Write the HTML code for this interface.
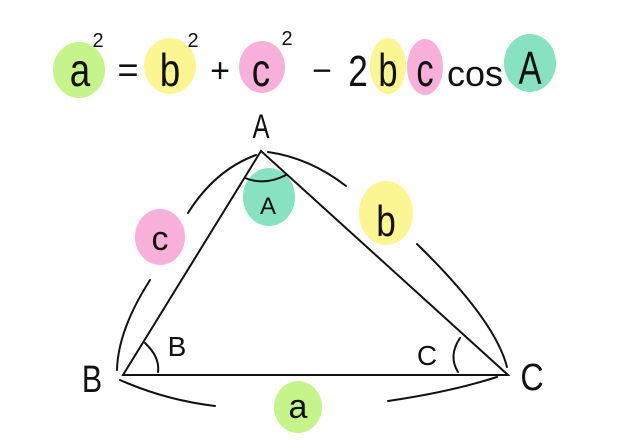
<!DOCTYPE html>
<html><head><meta charset="utf-8"><style>html,body{margin:0;padding:0;background:#fff}svg{display:block}</style></head>
<body>
<svg width="640" height="448" viewBox="0 0 640 448" xmlns="http://www.w3.org/2000/svg">
<g>
<ellipse cx="79" cy="70" rx="26" ry="28" fill="#c5f58a"/>
<ellipse cx="170" cy="66" rx="26" ry="28" fill="#fbf592"/>
<ellipse cx="262" cy="67" rx="23" ry="26" fill="#f8b0da"/>
<ellipse cx="388" cy="66" rx="18" ry="28" fill="#fbf592"/>
<ellipse cx="425" cy="67" rx="18" ry="28" fill="#f8b0da"/>
<ellipse cx="530" cy="63" rx="26" ry="29" fill="#86e2c0"/>
<ellipse cx="269" cy="197" rx="26" ry="29" fill="#86e2c0"/>
<ellipse cx="386" cy="213" rx="27" ry="32" fill="#fbf592"/>
<ellipse cx="160" cy="237" rx="25" ry="28" fill="#f8b0da"/>
<ellipse cx="298" cy="407" rx="24" ry="26" fill="#c5f58a"/>
</g>
<g font-family="Liberation Sans, sans-serif" fill="#111" text-anchor="middle">
<text x="80" y="86" font-size="46" transform="translate(80 0) scale(0.8 1) translate(-80 0)">a</text>
<text x="98" y="47" font-size="20">2</text>
<text x="128" y="82" font-size="36">=</text>
<text x="170" y="86" font-size="46" transform="translate(170 0) scale(0.8 1) translate(-170 0)">b</text>
<text x="193" y="47" font-size="20">2</text>
<text x="220" y="82" font-size="34">+</text>
<text x="261" y="86" font-size="46" transform="translate(261 0) scale(0.8 1) translate(-261 0)">c</text>
<text x="287" y="45" font-size="20">2</text>
<text x="322" y="82" font-size="34">−</text>
<text x="358" y="86" font-size="44" transform="translate(358 0) scale(0.8 1) translate(-358 0)">2</text>
<text x="388" y="86" font-size="46" transform="translate(388 0) scale(0.75 1) translate(-388 0)">b</text>
<text x="425" y="86" font-size="46" transform="translate(425 0) scale(0.75 1) translate(-425 0)">c</text>
<text x="475" y="86" font-size="36">cos</text>
<text x="530" y="84" font-size="46" transform="translate(530 0) scale(0.75 1) translate(-530 0)">A</text>
<text x="261" y="138" font-size="34" transform="translate(261 0) scale(0.75 1) translate(-261 0)">A</text>
<text x="268" y="214" font-size="24">A</text>
<text x="386" y="236" font-size="44" transform="translate(386 0) scale(0.8 1) translate(-386 0)">b</text>
<text x="160" y="250" font-size="34">c</text>
<text x="298" y="418" font-size="34">a</text>
<text x="92" y="392" font-size="38" transform="translate(92 0) scale(0.8 1) translate(-92 0)">B</text>
<text x="177" y="356" font-size="28">B</text>
<text x="532" y="390" font-size="38" transform="translate(532 0) scale(0.85 1) translate(-532 0)">C</text>
<text x="427" y="365" font-size="28">C</text>
</g>
<g fill="none" stroke="#111" stroke-width="2" stroke-linecap="round">
<path d="M261 151 L123 375 L508 375 Z"/>
<path d="M245 178 Q265 186 286 175"/>
<path d="M145 343 Q160 357 158 372"/>
<path d="M460 338 Q448 356 458 372"/>
<path d="M188 213 Q215 170 256 155"/>
<path d="M150 280 Q118 330 117 370"/>
<path d="M268 152 Q310 158 346 186"/>
<path d="M417 244 Q495 320 507 367"/>
<path d="M120 380 Q165 400 215 406"/>
<path d="M388 401 Q450 392 497 377"/>
</g>
</svg>
</body></html>
